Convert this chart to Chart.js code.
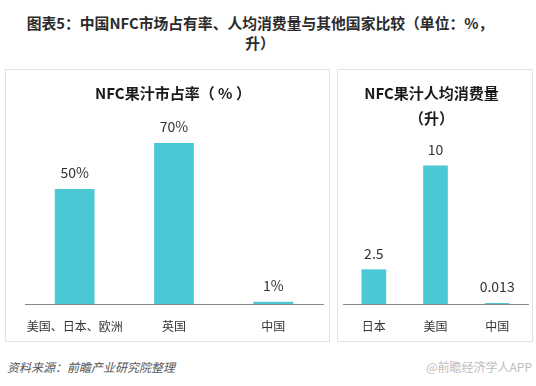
<!DOCTYPE html>
<html>
<head>
<meta charset="utf-8">
<script src="https://cdn.jsdelivr.net/npm/chart.js@4/dist/chart.umd.min.js"></script>
<style>
  html, body { margin: 0; padding: 0; background: #fff; }
  body { width: 536px; height: 386px; position: relative; overflow: hidden;
         font-family: "Noto Sans CJK SC", "Noto Sans", sans-serif; }
  #main-title { position: absolute; left: 0; top: 13px; width: 520px; text-align: center;
                font-size: 14.8px; font-weight: bold; line-height: 20px; color: #2b2b2b; }
  .panel { position: absolute; top: 69px; height: 273px; border: 1px solid #e2e2e2; box-sizing: border-box; }
  #left-panel { left: 5px; width: 325px; }
  #right-panel { left: 337px; width: 196px; }
  .panel canvas { position: absolute; left: 0; top: 0; }
  #source { position: absolute; left: 7px; top: 358px; font-size: 12px; font-style: italic; color: #555; }
  #mark { position: absolute; right: 4px; top: 358px; font-size: 12px; color: #bdbdbd; }
</style>
</head>
<body>
<div id="main-title">图表5：中国NFC市场占有率、人均消费量与其他国家比较（单位：%，<br>升）</div>
<div class="panel" id="left-panel"><canvas id="share-chart" width="323" height="271"></canvas></div>
<div class="panel" id="right-panel"><canvas id="volume-chart" width="194" height="271"></canvas></div>
<div id="source">资料来源：前瞻产业研究院整理</div>
<div id="mark">@前瞻经济学人APP</div>

<script>
// 市场占有率（%）
const shareLabels = ["美国、日本、欧洲", "英国", "中国"];
const shareValues = [50, 70, 1];
const shareTitle = ["NFC果汁市占率（ % ）"];

// 人均消费量（升）
const volumeLabels = ["日本", "美国", "中国"];
const volumeValues = [2.5, 10, 0.013];
const volumeTitle = ["NFC果汁人均消费量", "（升）"];

const barColor = "#4bc8d4";
const fontFamily = '"Noto Sans CJK SC", "Noto Sans", sans-serif';

// 柱子上方的数值
const valueLabelPlugin = {
  id: "valueLabels",
  afterDatasetsDraw(chart, args, opts) {
    const ctx = chart.ctx;
    const meta = chart.getDatasetMeta(0);
    ctx.save();
    ctx.font = "14px " + fontFamily;
    ctx.fillStyle = "#333";
    ctx.textAlign = "center";
    ctx.textBaseline = "middle";
    meta.data.forEach((bar, i) => {
      const v = chart.data.datasets[0].data[i];
      ctx.fillText(String(v) + (opts.suffix || ""), bar.x, bar.y - 16);
    });
    ctx.restore();
  }
};

// 面板标题
const panelTitlePlugin = {
  id: "panelTitle",
  afterDraw(chart, args, opts) {
    const ctx = chart.ctx;
    const area = chart.chartArea;
    ctx.save();
    ctx.font = "bold 15px " + fontFamily;
    ctx.fillStyle = "#1a1a1a";
    ctx.textAlign = "center";
    ctx.textBaseline = "middle";
    opts.lines.forEach((line, i) => {
      ctx.fillText(line, (area.left + area.right) / 2 + (opts.shift || 0), 23 + i * 25);
    });
    ctx.restore();
  }
};

function makeChart(canvasId, labels, values, yMax, padding, title, suffix, shift) {
  return new Chart(document.getElementById(canvasId), {
    type: "bar",
    data: {
      labels,
      datasets: [{
        data: values,
        backgroundColor: barColor,
        barPercentage: 0.4,
        categoryPercentage: 1,
        minBarLength: 1
      }]
    },
    options: {
      responsive: false,
      animation: false,
      layout: { padding },
      plugins: {
        legend: { display: false },
        tooltip: { enabled: false },
        valueLabels: { suffix },
        panelTitle: { lines: title, shift }
      },
      scales: {
        x: {
          grid: { display: false },
          border: { display: true, color: "#8a8a8a", width: 1 },
          ticks: { color: "#333", font: { size: 12, family: fontFamily }, padding: 7, maxRotation: 0 },
          afterFit(scale) { scale.height = 37; }
        },
        y: { display: false, min: 0, max: yMax }
      }
    },
    plugins: [valueLabelPlugin, panelTitlePlugin]
  });
}

makeChart("share-chart", shareLabels, shareValues, 100,
  { left: 19, right: 6, top: 4, bottom: 0 }, shareTitle, "%", -1);
makeChart("volume-chart", volumeLabels, volumeValues, 16.6,
  { left: 5, right: 4, top: 4, bottom: 0 }, volumeTitle, "", -4);
</script>
</body>
</html>
